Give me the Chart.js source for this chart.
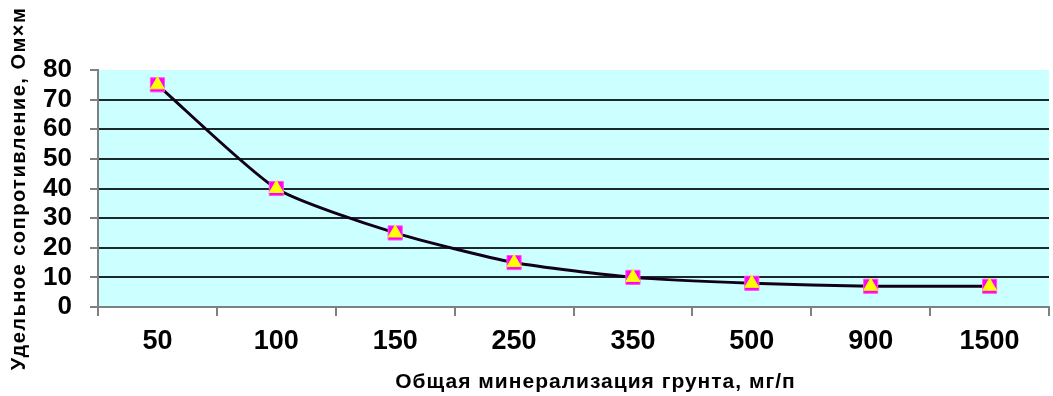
<!DOCTYPE html>
<html>
<head>
<meta charset="utf-8">
<script src="https://cdn.jsdelivr.net/npm/chart.js@4/dist/chart.umd.min.js"></script>
<style>
  html, body { margin: 0; padding: 0; background: #ffffff; overflow: hidden; }
  #wrap { width: 1053px; height: 396px; overflow: hidden; position: relative; }
  #box { width: 1060px; height: 396px; position: absolute; left: 0; top: 0; }
</style>
</head>
<body>
<div id="wrap"><div id="box"><canvas id="chart"></canvas></div></div>
<script>
// Общая минерализация грунта (мг/л) и удельное сопротивление (Ом×м)
const categories = ['50', '100', '150', '250', '350', '500', '900', '1500'];
const resistance = [75, 40, 25, 15, 10, 8, 7, 7];
const resistanceMarks = [75, 40, 25, 15, 10, 8, 7, 7];
const yTicks = [0, 10, 20, 30, 40, 50, 60, 70, 80];

const FONT = "'Liberation Sans', Arial, sans-serif";

// cyan plot-area fill
const plotBg = {
  id: 'plotBg',
  beforeDraw(chart) {
    const { ctx, chartArea: a } = chart;
    ctx.save();
    ctx.fillStyle = '#ccffff';
    ctx.fillRect(a.left, a.top, a.right - a.left, a.bottom - a.top);
    ctx.restore();
  }
};

// axis titles drawn with extra letter spacing and a small shift
function spacedTitle(scale, spacing, dx, dy) {
  if (scale._spacedTitle) return;
  scale._spacedTitle = true;
  const orig = scale.drawTitle;
  scale.drawTitle = function () {
    const ctx = this.ctx;
    ctx.save();
    ctx.letterSpacing = spacing;
    ctx.translate(dx, dy);
    orig.call(this);
    ctx.restore();
  };
}

new Chart(document.getElementById('chart'), {
  type: 'line',
  data: {
    labels: categories,
    datasets: [
      {
        label: 'curve',
        data: resistance,
        borderColor: '#120018',
        borderWidth: 3,
        tension: 0.2,
        pointRadius: 0,
        fill: false,
        order: 3
      },
      {
        label: 'squares',
        data: resistanceMarks,
        showLine: false,
        pointStyle: 'rect',
        pointRadius: 10,
        pointBackgroundColor: '#ff00ff',
        pointBorderColor: '#ff55dd',
        pointBorderWidth: 1,
        order: 2
      },
      {
        label: 'triangles',
        data: resistanceMarks,
        showLine: false,
        pointStyle: 'triangle',
        pointRadius: 8,
        pointBackgroundColor: '#ffff00',
        pointBorderColor: '#ffff00',
        pointBorderWidth: 1,
        order: 1
      }
    ]
  },
  options: {
    responsive: true,
    maintainAspectRatio: false,
    animation: false,
    devicePixelRatio: 1,
    layout: { padding: { top: 70, right: 1, left: 0, bottom: 0 } },
    plugins: { legend: { display: false }, tooltip: { enabled: false } },
    scales: {
      x: {
        offset: true,
        border: { display: true, color: '#808080', width: 2 },
        grid: {
          offset: true,
          drawOnChartArea: false,
          drawTicks: true,
          tickLength: 9,
          tickColor: '#808080',
          lineWidth: 2
        },
        ticks: {
          color: '#000000',
          font: { family: FONT, size: 27, weight: 'bold' },
          padding: 9,
          maxRotation: 0,
          autoSkip: false
        },
        title: {
          display: true,
          text: 'Общая минерализация грунта, мг/п',
          color: '#000000',
          font: { family: FONT, size: 21, weight: 'bold' },
          padding: { top: 0, bottom: 1 }
        },
        afterFit(scale) { scale.height = 89; spacedTitle(scale, '1px', 22, 0); }
      },
      y: {
        min: 0,
        max: 80,
        afterBuildTicks(scale) { scale.ticks = yTicks.map(v => ({ value: v })); },
        border: { display: true, color: '#808080', width: 2 },
        grid: {
          drawTicks: true,
          tickLength: 8,
          tickColor: '#808080',
          lineWidth: 2,
          color(ctx) {
            const v = ctx.tick ? ctx.tick.value : null;
            if (v === 0 || v === 80) return 'rgba(0,0,0,0)';
            return '#1a2a2a';
          }
        },
        ticks: {
          color: '#000000',
          font: { family: FONT, size: 26, weight: 'bold' },
          padding: 18,
          autoSkip: false
        },
        title: {
          display: true,
          text: 'Удельное сопротивление, Ом×м',
          color: '#000000',
          font: { family: FONT, size: 20, weight: 'bold' },
          padding: { top: 7, bottom: 0 }
        },
        afterFit(scale) { scale.width = 98; spacedTitle(scale, '1.5px', 0, 0); }
      }
    }
  },
  plugins: [plotBg]
});
</script>
</body>
</html>
